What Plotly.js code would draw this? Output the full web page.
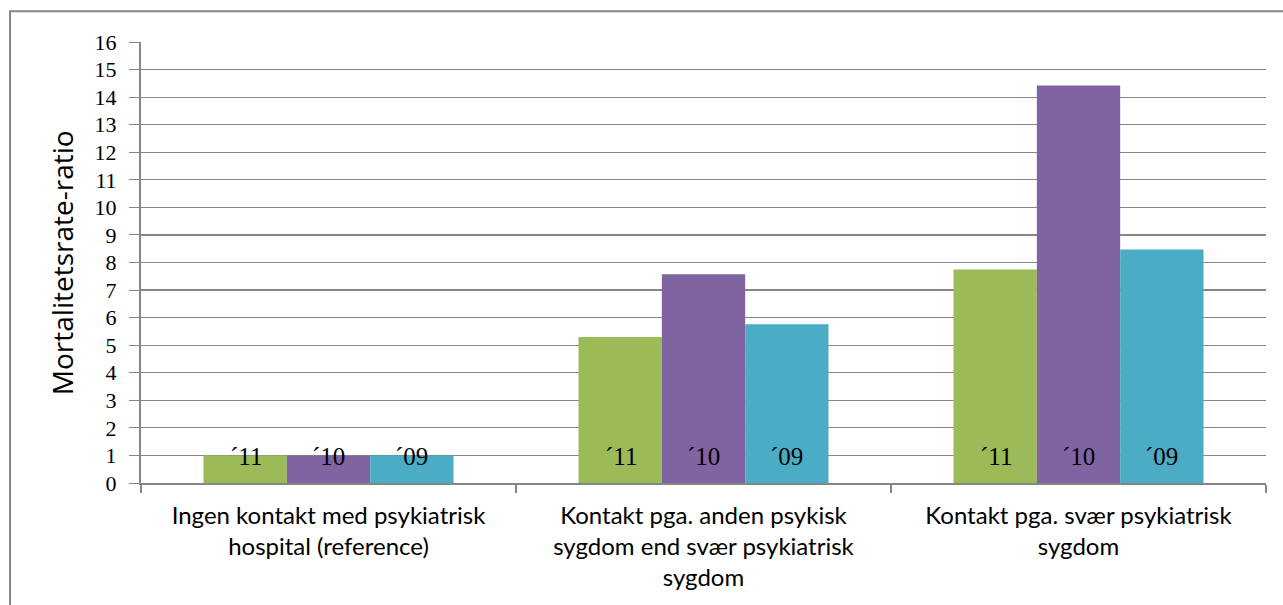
<!DOCTYPE html>
<html>
<head>
<meta charset="utf-8">
<script src="https://cdn.plot.ly/plotly-3.0.1.min.js"></script>
<style>html,body{margin:0;padding:0;background:#fff;}#chart{width:1283px;height:605px;}</style>
</head>
<body>
<div id="chart"></div>
<script>
const categories = [
  "Ingen kontakt med psykiatrisk<br>hospital (reference)",
  "Kontakt pga. anden psykisk<br>sygdom end svær psykiatrisk<br>sygdom",
  "Kontakt pga. svær psykiatrisk<br>sygdom"
];
const seriesNames = ["´11", "´10", "´09"];
const values2011 = [1, 5.3, 7.75];
const values2010 = [1, 7.57, 14.42];
const values2009 = [1, 5.76, 8.47];
const colors = ["#9BBB59", "#8064A2", "#4BACC6"];
const yTicks = [0,1,2,3,4,5,6,7,8,9,10,11,12,13,14,15,16];

const seriesValues = [values2011, values2010, values2009];
const traces = seriesValues.map((v, i) => ({
  type: "bar",
  name: seriesNames[i],
  x: categories,
  y: v,
  marker: {color: colors[i], line: {width: 0}},
  hoverinfo: "none"
}));

const annotations = [];
categories.forEach((c) => {
  seriesNames.forEach((s, i) => {
    annotations.push({
      x: c, y: 0.95, xref: "x", yref: "y",
      text: s, showarrow: false,
      xshift: (i - 1) * 83,
      yanchor: "middle", xanchor: "center",
      font: {family: "Liberation Serif", size: 25, color: "#000"}
    });
  });
});
annotations.push({
  xref: "paper", yref: "paper", x: -0.0705, y: 0.5,
  text: "Mortalitetsrate-ratio", textangle: -90, showarrow: false,
  xanchor: "center", yanchor: "middle",
  font: {family: "Open Sans", size: 28, color: "#000"}
});

const layout = {
  width: 1283, height: 605,
  margin: {l: 141, r: 17, t: 42, b: 122},
  paper_bgcolor: "#fff", plot_bgcolor: "#fff",
  showlegend: false,
  barmode: "group",
  bargap: 0.3333, bargroupgap: 0,
  xaxis: {
    type: "category",
    showline: true, linecolor: "#868686", linewidth: 2,
    ticks: "outside", ticklen: 8, tickcolor: "#868686", tickwidth: 2,
    tickson: "boundaries",
    showgrid: false,
    ticklabelstandoff: 10,
    tickfont: {family: "Lato", size: 24, color: "#000"},
    zeroline: false
  },
  yaxis: {
    range: [0, 16],
    tickvals: yTicks, ticktext: yTicks.map(String),
    showline: true, linecolor: "#868686", linewidth: 2,
    ticks: "outside", ticklen: 10, tickcolor: "#868686", tickwidth: 1,
    showgrid: true, gridcolor: "#868686", gridwidth: 1.2,
    zeroline: false,
    ticklabelstandoff: 8,
    tickfont: {family: "Liberation Serif", size: 22, color: "#000"}
  },
  annotations: annotations,
  shapes: [{
    type: "rect", xref: "paper", yref: "paper",
    x0: -0.1164, x1: 1.1, y0: -0.4, y1: 1.0696,
    line: {color: "#868686", width: 2}, fillcolor: "rgba(0,0,0,0)", layer: "below"
  }]
};

Plotly.newPlot("chart", traces, layout, {displayModeBar: false, staticPlot: true});
</script>
</body>
</html>
